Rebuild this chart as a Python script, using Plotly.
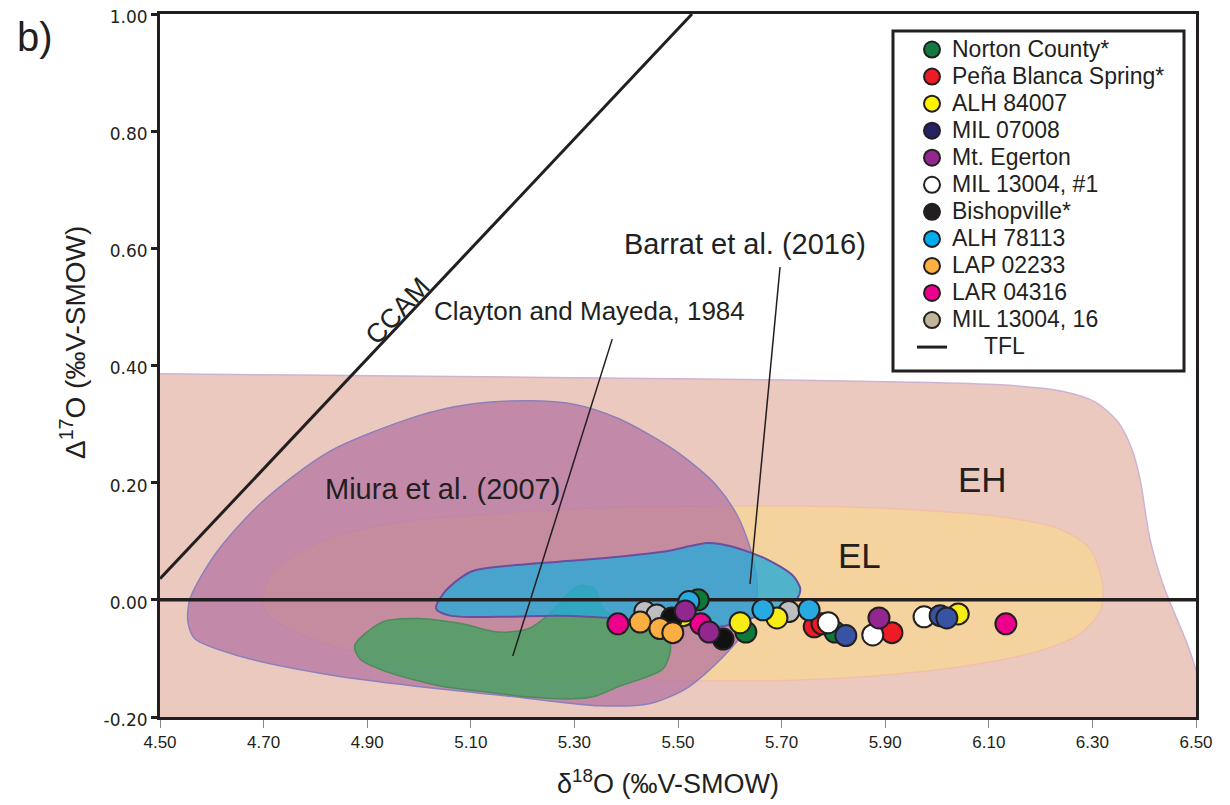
import plotly.graph_objects as go

# ---------------- axis ticks ----------------
x_ticks = [4.50, 4.70, 4.90, 5.10, 5.30, 5.50, 5.70, 5.90, 6.10, 6.30, 6.50]
x_tick_labels = ["4.50", "4.70", "4.90", "5.10", "5.30", "5.50", "5.70", "5.90", "6.10", "6.30", "6.50"]
y_ticks = [-0.20, 0.00, 0.20, 0.40, 0.60, 0.80, 1.00]
y_tick_labels = ["-0.20", "0.00", "0.20", "0.40", "0.60", "0.80", "1.00"]

# ---------------- field outlines (d18O, D17O) ----------------
eh_x = [4.40, 4.50, 4.963, 5.542, 5.929, 6.122, 6.237, 6.305, 6.349, 6.376, 6.392, 6.411,
        6.436, 6.459, 6.483, 6.500, 6.517, 6.55, 4.40]
eh_y = [0.387, 0.386, 0.382, 0.377, 0.372, 0.367, 0.357, 0.338, 0.304, 0.258, 0.206, 0.104,
        0.027, -0.024, -0.075, -0.121, -0.198, -0.25, -0.25]

el_x = [4.697, 4.722, 4.770, 4.847, 4.963, 5.156, 5.349, 5.542, 5.736, 5.929, 6.122, 6.237,
        6.295, 6.320, 6.315, 6.276, 6.199, 6.083, 5.929, 5.736, 5.542, 5.349, 5.156, 4.963,
        4.828, 4.741, 4.703, 4.697]
el_y = [0.007, 0.053, 0.082, 0.111, 0.133, 0.148, 0.157, 0.160, 0.160, 0.155, 0.142, 0.121,
        0.087, 0.027, -0.019, -0.058, -0.087, -0.109, -0.126, -0.137, -0.138, -0.135, -0.126,
        -0.104, -0.077, -0.046, -0.019, 0.007]

miura_x = [5.212, 5.299, 5.386, 5.498, 5.575, 5.618, 5.645, 5.653, 5.635, 5.583, 5.515, 5.446,
           5.349, 5.170, 4.998, 4.826, 4.653, 4.568, 4.554, 4.558, 4.610, 4.697, 4.826, 4.998,
           5.098, 5.212]
miura_y = [0.340, 0.334, 0.309, 0.2526, 0.1945, 0.138, 0.070, 0.014, -0.044, -0.101, -0.152,
           -0.177, -0.181, -0.164, -0.148, -0.128, -0.096, -0.067, -0.038, 0.002, 0.082, 0.167,
           0.2526, 0.314, 0.334, 0.340]

clayton_x = [4.876, 4.929, 4.998, 5.083, 5.153, 5.212, 5.257, 5.292, 5.313, 5.338, 5.359, 5.429,
             5.481, 5.485, 5.471, 5.429, 5.386, 5.342, 5.299, 5.212, 5.127, 5.041, 4.938, 4.886,
             4.876]
clayton_y = [-0.078, -0.038, -0.032, -0.041, -0.055, -0.049, -0.020, 0.014, 0.024, 0.019, -0.020,
             -0.038, -0.061, -0.089, -0.118, -0.135, -0.148, -0.164, -0.169, -0.166, -0.157,
             -0.147, -0.123, -0.101, -0.078]

barrat_x = [5.033, 5.050, 5.100, 5.170, 5.342, 5.471, 5.558, 5.600, 5.670, 5.722, 5.736, 5.730,
            5.697, 5.639, 5.581, 5.504, 5.388, 5.272, 5.156, 5.060, 5.033]
barrat_y = [-0.015, 0.014, 0.048, 0.058, 0.070, 0.082, 0.097, 0.092, 0.070, 0.041, 0.019, 0.002,
            -0.015, -0.032, -0.046, -0.041, -0.032, -0.027, -0.029, -0.027, -0.015]

# ---------------- reference lines ----------------
tfl_x = [4.50, 6.50]
tfl_y = [0.00, 0.00]
ccam_x = [4.50, 5.527]
ccam_y = [0.036, 1.00]
clayton_leader_x = [5.373, 5.181]
clayton_leader_y = [0.445, -0.096]
barrat_leader_x = [5.697, 5.639]
barrat_leader_y = [0.568, 0.027]

# ---------------- samples ----------------
names = ["Norton County*", "Peña Blanca Spring*", "ALH 84007", "MIL 07008", "Mt. Egerton",
         "MIL 13004, #1", "Bishopville*", "ALH 78113", "LAP 02233", "LAR 04316", "MIL 13004, 16"]
legend_colors = ["#117a3e", "#ed1c24", "#fff200", "#262262", "#92278f", "#ffffff", "#231f20",
                 "#00aeef", "#fbb040", "#ec008c", "#c2b59b"]
point_colors = ["#0e7a3a", "#ed1c24", "#f7ec13", "#3953a4", "#92278f", "#ffffff", "#111111",
                "#27aae1", "#fbae42", "#ec008c", "#bcbec0"]

norton_x = [5.539, 5.631, 5.803]
norton_y = [0.000, -0.055, -0.055]
pena_x = [5.763, 5.778, 5.913]
pena_y = [-0.046, -0.041, -0.056]
alh84007_x = [5.510, 5.620, 5.691, 6.041]
alh84007_y = [-0.027, -0.039, -0.031, -0.024]
mil07008_x = [5.824, 6.006, 6.019]
mil07008_y = [-0.061, -0.027, -0.031]
egerton_x = [5.514, 5.560, 5.888]
egerton_y = [-0.019, -0.055, -0.031]
mil13004_1_x = [5.790, 5.876, 5.975]
mil13004_1_y = [-0.039, -0.060, -0.029]
bishop_x = [5.488, 5.587]
bishop_y = [-0.031, -0.067]
alh78113_x = [5.521, 5.664, 5.753]
alh78113_y = [-0.003, -0.017, -0.017]
lap_x = [5.427, 5.465, 5.490]
lap_y = [-0.038, -0.049, -0.056]
lar_x = [5.384, 5.544, 6.133]
lar_y = [-0.041, -0.041, -0.041]
mil13004_16_x = [5.436, 5.459, 5.714]
mil13004_16_y = [-0.020, -0.026, -0.020]

sample_x = [norton_x, pena_x, alh84007_x, mil07008_x, egerton_x, mil13004_1_x, bishop_x,
            alh78113_x, lap_x, lar_x, mil13004_16_x]
sample_y = [norton_y, pena_y, alh84007_y, mil07008_y, egerton_y, mil13004_1_y, bishop_y,
            alh78113_y, lap_y, lar_y, mil13004_16_y]
draw_order = [10, 0, 2, 1, 5, 3, 6, 8, 7, 9, 4]

FONT = "Liberation Sans, Arial, sans-serif"
INK = "#231f20"

fig = go.Figure()

def field(xs, ys, fill, line, width):
    fig.add_trace(go.Scatter(x=xs, y=ys, mode="lines", fill="toself", fillcolor=fill,
                             line=dict(color=line, width=width, shape="spline", smoothing=0.8),
                             hoverinfo="skip", showlegend=False))

field(eh_x, eh_y, "#ecc9bf", "#cfb3d3", 1.5)
field(el_x, el_y, "#f4d39e", "#f1c0aa", 1.5)
field(miura_x, miura_y, "rgba(176,110,160,0.70)", "#8c80bb", 1.5)
field(clayton_x, clayton_y, "rgba(76,160,100,0.86)", "#4f8a5c", 1.5)
field(barrat_x, barrat_y, "rgba(40,170,215,0.80)", "#6a4fa0", 2)

def line(xs, ys, width):
    fig.add_trace(go.Scatter(x=xs, y=ys, mode="lines", line=dict(color=INK, width=width),
                             hoverinfo="skip", showlegend=False))

line(tfl_x, tfl_y, 3.5)
line(ccam_x, ccam_y, 3)
line(clayton_leader_x, clayton_leader_y, 1.5)
line(barrat_leader_x, barrat_leader_y, 1.5)

for i in draw_order:
    fig.add_trace(go.Scatter(x=sample_x[i], y=sample_y[i], mode="markers", name=names[i],
                             marker=dict(size=21, color=point_colors[i],
                                         line=dict(color=INK, width=2)),
                             showlegend=False))

# legend entries (in the reference order and legend colours)
for i, n in enumerate(names):
    fig.add_trace(go.Scatter(x=[None], y=[None], mode="markers",
                             name='<span style="font-size:23px">' + n + '</span>',
                             marker=dict(size=16, color=legend_colors[i],
                                         line=dict(color=INK, width=2))))
fig.add_trace(go.Scatter(x=[None], y=[None], mode="lines",
                         name='<span style="font-size:23px">\u00a0\u00a0\u00a0\u00a0\u00a0TFL</span>',
                         line=dict(color=INK, width=3)))

# page body has an 8px margin: shrink the figure and margins so the plot lands
# on the reference pixels (plot area 160..1196 x 14..717 in the screenshot)
OFF = 8
W, H = 1230 - OFF, 805 - OFF
L, R, T, B = 160, 1196, 14, 717
def px(xp):
    return (xp - L) / (R - L)
def py(yp):
    return (B - yp) / (B - T)

labels = [
    dict(x=4.959, y=0.493, text="CCAM", size=27, angle=-46.8),
    dict(x=5.330, y=0.493, text="Clayton and Mayeda, 1984", size=26, angle=0),
    dict(x=5.629, y=0.6075, text="Barrat et al. (2016)", size=29, angle=0),
    dict(x=5.046, y=0.189, text="Miura et al. (2007)", size=29, angle=0),
    dict(x=6.087, y=0.206, text="EH", size=35, angle=0),
    dict(x=5.851, y=0.075, text="EL", size=35, angle=0),
]
annotations = [dict(x=a["x"], y=a["y"], xref="x", yref="y", text=a["text"], showarrow=False,
                    xanchor="center", yanchor="middle",
                    textangle=a["angle"], font=dict(family=FONT, size=a["size"], color=INK))
               for a in labels]
annotations += [
    dict(x=px(35), y=py(37), xref="paper", yref="paper", text="b)", showarrow=False,
         xanchor="center", yanchor="middle", font=dict(family=FONT, size=40, color=INK)),
    dict(x=px(73), y=py(343), xref="paper", yref="paper", text="Δ<sup>17</sup>O (‰V-SMOW)",
         showarrow=False, textangle=-90, xanchor="center", yanchor="middle",
         font=dict(family=FONT, size=28, color=INK)),
    dict(x=px(668), y=py(782), xref="paper", yref="paper", text="δ<sup>18</sup>O (‰V-SMOW)",
         showarrow=False, xanchor="center", yanchor="middle",
         font=dict(family=FONT, size=27, color=INK)),
]

fig.update_layout(
    width=W, height=H,
    margin=dict(l=L - OFF, r=1230 - R, t=T - OFF, b=805 - B, autoexpand=False),
    paper_bgcolor="white", plot_bgcolor="white",
    showlegend=True,
    legend=dict(x=px(912), y=py(31), xanchor="left", yanchor="top",
                bgcolor="rgba(0,0,0,0)", borderwidth=0,
                font=dict(family=FONT, size=18.5, color=INK), tracegroupgap=0),
    annotations=annotations,
    shapes=[dict(type="rect", xref="paper", yref="paper", x0=px(893), x1=px(1184),
                 y0=py(371), y1=py(31), line=dict(color=INK, width=3), fillcolor="white",
                 layer="above")],
)
fig.update_xaxes(range=[4.50, 6.50], tickvals=x_ticks, ticktext=x_tick_labels, showgrid=False,
                 zeroline=False, showline=True, linewidth=3, linecolor=INK, mirror=True,
                 ticks="outside", ticklen=8, tickwidth=1, tickcolor="#888888", automargin=False,
                 ticklabeloverflow="allow",
                 tickfont=dict(family=FONT, size=17, color=INK))
fig.update_yaxes(range=[-0.20, 1.00], tickvals=y_ticks, ticktext=y_tick_labels, showgrid=False,
                 zeroline=False, showline=True, linewidth=3, linecolor=INK, mirror=True,
                 ticks="outside", ticklen=6, tickwidth=3, tickcolor=INK, automargin=False,
                 ticklabeloverflow="allow", ticklabelshift=3,
                 tickfont=dict(family="DejaVu Sans, Verdana, sans-serif", size=17, color=INK))

fig.write_html("out.html")
